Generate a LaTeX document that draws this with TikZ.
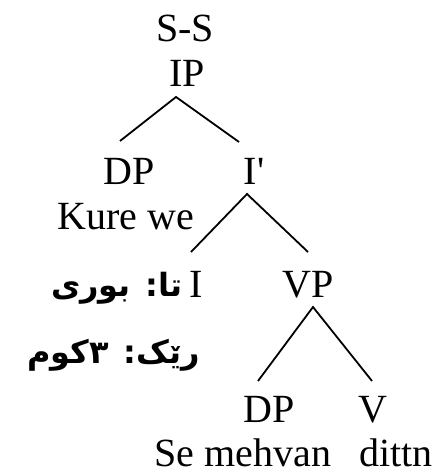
\documentclass[tikz,border=0pt]{standalone}
\usepackage{fontspec}
\setmainfont{Liberation Serif}
\newfontfamily\arabicfont[Script=Arabic]{DejaVu Sans}
\TeXXeTstate=1
\begin{document}
\begin{tikzpicture}[x=0.5pt, y=-0.5pt,
        cat/.style={font=\fontsize{20}{24}\selectfont, inner sep=0pt, anchor=base},
        kur/.style={font=\arabicfont\bfseries\fontsize{16}{20}\selectfont, inner sep=0pt, anchor=base east},
        branch/.style={draw, line width=0.9pt}
    ]
    \useasboundingbox (0,0) rectangle (434,475);
    % labels of the tree
    \node[cat] (ss) at (185,42) {S-S};
    \node[cat] (ip) at (187,87) {IP};
    \node[cat] (dpa) at (129,185) {DP};
    \node[cat] (ibar) at (254,185) {I\textquotesingle};
    \node[cat] (kure) at (126,230) {Kure we};
    \node[cat] (infl) at (196,297) {I};
    \node[cat] (vp) at (308,297) {VP};
    \node[cat] (dpb) at (269,422) {DP};
    \node[cat] (verb) at (373,422) {V};
    \node[cat] (mehvan) at (243,466) {Se mehvan};
    \node[cat] (dittn) at (396,466) {dittn};
    \node[kur] (tense) at (183,296) {\beginR تا: بوری\endR};
    \node[kur] (agr) at (200,363) {\beginR رێک: ٣کوم\endR};
    % branch points
    \coordinate (ip-b) at (176,97);
    \coordinate (dpa-t) at (120,141);
    \coordinate (ibar-t) at (239,142);
    \coordinate (ibar-b) at (247,194);
    \coordinate (infl-t) at (191,252);
    \coordinate (vp-t) at (308,252);
    \coordinate (vp-b) at (313,307);
    \coordinate (dpb-t) at (258,381);
    \coordinate (verb-t) at (372,381);
    \draw[branch] (dpa-t) -- (ip-b) -- (ibar-t);
    \draw[branch] (infl-t) -- (ibar-b) -- (vp-t);
    \draw[branch] (dpb-t) -- (vp-b) -- (verb-t);
\end{tikzpicture}
\end{document}
